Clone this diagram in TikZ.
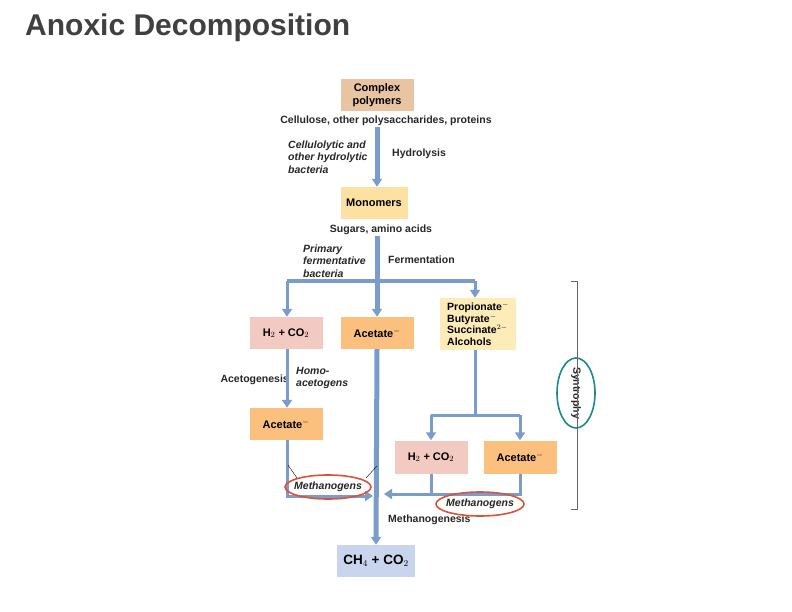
\documentclass[tikz,border=0pt]{standalone}
\usepackage{fontspec}
\setmainfont{Liberation Sans}
\usetikzlibrary{arrows.meta,positioning}
\definecolor{flow}{HTML}{7A9CCB}
\definecolor{tanbox}{HTML}{E8C4A2}
\definecolor{monobox}{HTML}{FCE1A2}
\definecolor{pinkbox}{HTML}{F2CAC2}
\definecolor{orangebox}{HTML}{FBC07E}
\definecolor{paleybox}{HTML}{FDEBB8}
\definecolor{bluebox}{HTML}{C9D5EC}
\definecolor{ringred}{HTML}{D9533A}
\definecolor{ringteal}{HTML}{1A8A88}
\tikzset{
  box/.style={minimum width=73pt,minimum height=32pt,inner sep=2pt,font=\fontsize{11}{12.5}\selectfont\bfseries},
  lab/.style={font=\fontsize{10.5}{12.5}\selectfont\bfseries,text=black!85,inner sep=1pt},
  bug/.style={font=\fontsize{10.5}{12.5}\selectfont\bfseries\itshape,text=black!85,inner sep=1pt,align=left},
  pipe/.style={flow,line width=3pt},
  main/.style={flow,line width=5pt},
  tip/.style={-{Triangle[length=8pt,width=10pt]}},
  ring/.style={line width=1.6pt,draw}
}
\begin{document}
\begin{tikzpicture}[x=1pt,y=-1pt]
  \useasboundingbox (0,0) rectangle (792,612);

  % title
  \node[anchor=west,font=\fontsize{30}{34}\selectfont\bfseries,text=black!75,inner sep=0pt] at (25,28) {Anoxic Decomposition};

  % boxes
  \node[box,fill=tanbox,align=center] (poly) at (377,95) {Complex\\polymers};
  \node[lab] (polytxt) at (386,121) {Cellulose, other polysaccharides, proteins};
  \node[box,fill=monobox,minimum width=67pt] (mono) at (374,203) {Monomers};
  \node[lab] (monotxt) at (381,230) {Sugars, amino acids};
  \node[box,fill=pinkbox] (hA) at (286,333) {H$_2$ + CO$_2$};
  \node[box,fill=orangebox] (acA) at (377,333) {Acetate$^-$};
  \node[box,fill=paleybox,minimum width=76pt,minimum height=52pt,align=left,
        font=\fontsize{10.5}{11.5}\selectfont\bfseries] (acids) at (478,324)
    {Propionate$^-$\\Butyrate$^-$\\Succinate$^{2-}$\\Alcohols};
  \node[box,fill=orangebox] (acB) at (286,424) {Acetate$^-$};
  \node[box,fill=pinkbox,minimum height=33pt] (hB) at (431,457) {H$_2$ + CO$_2$};
  \node[box,fill=orangebox,minimum height=33pt] (acC) at (520,457) {Acetate$^-$};
  \node[box,fill=bluebox,font=\fontsize{13.5}{15}\selectfont\bfseries,minimum width=78pt] (ch4) at (376,561) {CH$_4$ + CO$_2$};

  % labels
  \node[bug,anchor=west] (hydbug) at (287,157) {Cellulolytic and\\other hydrolytic\\bacteria};
  \node[lab,anchor=west] (hyd) at (391,154) {Hydrolysis};
  \node[bug,anchor=west] (fermbug) at (302,261) {Primary\\fermentative\\bacteria};
  \node[lab,anchor=west] (ferm) at (387,260) {Fermentation};
  \node[lab,anchor=east] (acgen) at (290,380) {Acetogenesis};
  \node[bug,anchor=west] (homo) at (295,378) {Homo-\\acetogens};
  \node[lab,anchor=west] (mgen) at (387,520) {Methanogenesis};
  \node[bug] (methL) at (328,487) {Methanogens};
  \node[bug] (methR) at (480,504) {Methanogens};
  \node[lab] (syn) at (576,393) {\rotatebox{-90}{Syntrophy}};

  % branch points
  \coordinate (fork) at (377,281);
  \coordinate (forkL) at (287,281);
  \coordinate (forkR) at (475,281);
  \coordinate (split) at (475,415);
  \coordinate (splitL) at (431,415);
  \coordinate (splitR) at (520,415);
  \coordinate (cornL) at (287,496);
  \coordinate (endL) at (373,496);
  \coordinate (cornB) at (431,494);
  \coordinate (cornC) at (520,494);
  \coordinate (endR) at (384,494);

  % flows
  \draw[main,tip] (polytxt.south -| poly) -- (mono.north -| poly);
  \draw[main,tip] (monotxt.south -| acA) -- (acA.north);
  \draw[pipe] (forkL) -- (forkR);
  \draw[pipe,tip] (forkL) -- (hA.north -| forkL);
  \draw[pipe,tip] (forkR) -- (acids.north -| forkR);
  \draw[pipe,tip] (hA.south -| forkL) -- (acB.north -| forkL);
  \draw[pipe] (acids.south -| split) -- (split);
  \draw[pipe] (splitL) -- (splitR);
  \draw[pipe,tip] (splitL) -- (hB.north);
  \draw[pipe,tip] (splitR) -- (acC.north);
  \draw[pipe,tip] (acB.south -| cornL) -- (cornL) -- (endL);
  \draw[pipe] (hB.south) -- (cornB);
  \draw[pipe,tip] (acC.south) -- (cornC) -- (endR);
  \draw[main,tip] (acA.south) -- (ch4.north);

  % pointers
  \draw[black,thin] (288,465) -- (297,478);
  \draw[black,thin] (377,466) -- (366,478);

  % rings
  \draw[ring,ringred] (methL) ellipse (43 and 12);
  \draw[ring,ringred] (methR) ellipse (44 and 12);
  \draw[ring,ringteal] (syn) ellipse (19 and 35);

  % bracket
  \draw[black!60,thin] (571,281) -- (577,281) -- (577,509) -- (571,509);
\end{tikzpicture}
\end{document}
